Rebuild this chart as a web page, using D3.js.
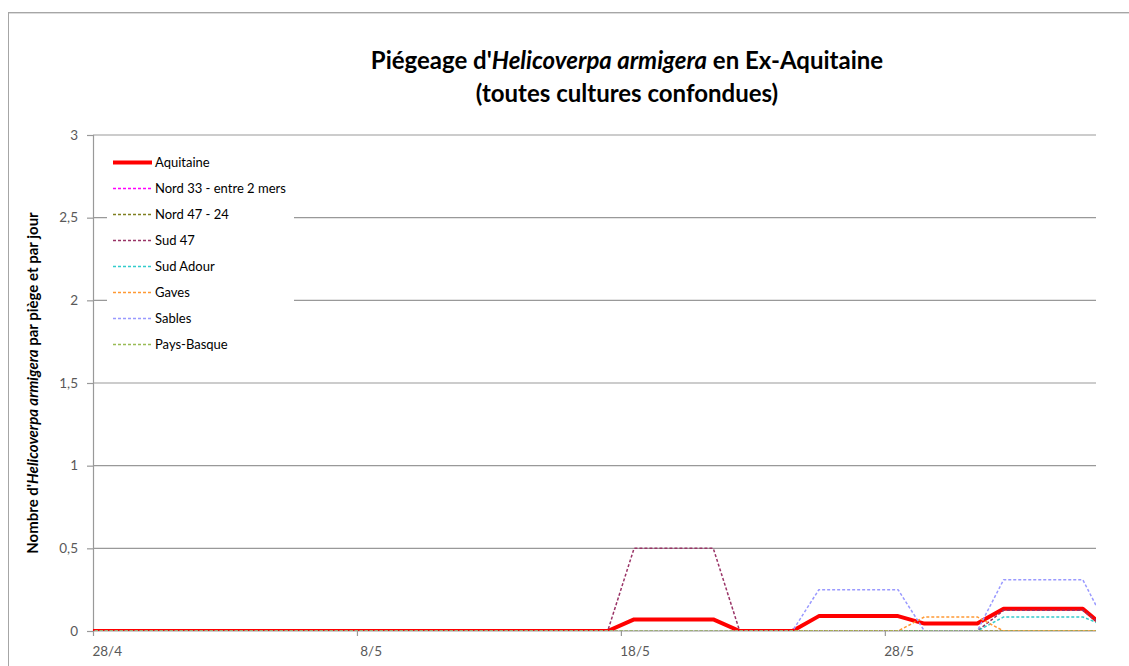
<!DOCTYPE html>
<html>
<head>
<meta charset="utf-8">
<script src="https://cdn.jsdelivr.net/npm/d3@7"></script>
<style>
  body { margin: 0; background: #fff; }
  svg { display: block; font-family: Lato, "Open Sans", sans-serif; }
</style>
</head>
<body>
<svg id="chart" width="1129" height="666"></svg>
<script>

// dates, one point per day (27/4 and 5/6 are partly outside the plot)
const dates = ['27/4','28/4','29/4','30/4',
  '1/5','2/5','3/5','4/5','5/5','6/5','7/5','8/5','9/5','10/5',
  '11/5','12/5','13/5','14/5','15/5','16/5','17/5','18/5','19/5','20/5',
  '21/5','22/5','23/5','24/5','25/5','26/5','27/5','28/5','29/5','30/5','31/5',
  '1/6','2/6','3/6','4/6','5/6'];

const xTickLabels = ['28/4','8/5','18/5','28/5'];
const yTicks = [0, 0.5, 1, 1.5, 2, 2.5, 3];

const aquitaine = [0,0,0,0,0,0,0,0,0,0,0,0,0,0,0,0,0,0,0,0,0,
  0.07,0.07,0.07,0.07, 0,0,0, 0.09,0.09,0.09,0.09, 0.045,0.045,0.045, 0.135,0.135,0.135,0.135, 0];
const nord33 = [0,0,0,0,0,0,0,0,0,0,0,0,0,0,0,0,0,0,0,0,0,
  0,0,0,0, 0,0,0, 0,0,0,0, 0,0,0, 0,0,0,0, 0];
const nord4724 = [0,0,0,0,0,0,0,0,0,0,0,0,0,0,0,0,0,0,0,0,0,
  0,0,0,0, 0,0,0, 0,0,0,0, 0,0,0, 0,0,0,0, 0];
const sud47 = [0,0,0,0,0,0,0,0,0,0,0,0,0,0,0,0,0,0,0,0,0,
  0.5,0.5,0.5,0.5, 0,0,0, 0,0,0,0, 0,0,0, 0.125,0.125,0.125,0.125, 0];
const sudAdour = [0,0,0,0,0,0,0,0,0,0,0,0,0,0,0,0,0,0,0,0,0,
  0,0,0,0, 0,0,0, 0,0,0,0, 0,0,0, 0.085,0.085,0.085,0.085, 0.02];
const gaves = [0,0,0,0,0,0,0,0,0,0,0,0,0,0,0,0,0,0,0,0,0,
  0,0,0,0, 0,0,0, 0,0,0,0, 0.085,0.085,0.085, 0,0,0,0, 0];
const sables = [0,0,0,0,0,0,0,0,0,0,0,0,0,0,0,0,0,0,0,0,0,
  0,0,0,0, 0,0,0, 0.25,0.25,0.25,0.25, 0,0,0, 0.31,0.31,0.31,0.31, 0];
const paysBasque = [0,0,0,0,0,0,0,0,0,0,0,0,0,0,0,0,0,0,0,0,0,
  0,0,0,0, 0,0,0, 0,0,0,0, 0,0,0, 0,0,0,0, 0];

const series = [
  {name: 'Aquitaine', values: aquitaine, color: '#ff0000', width: 4, dash: null},
  {name: 'Nord 33 - entre 2 mers', values: nord33, color: '#ff00ff', width: 1.5, dash: '3,2'},
  {name: 'Nord 47 - 24', values: nord4724, color: '#7f7f20', width: 1.5, dash: '3,2'},
  {name: 'Sud 47', values: sud47, color: '#993366', width: 1.5, dash: '3,2'},
  {name: 'Sud Adour', values: sudAdour, color: '#33cccc', width: 1.5, dash: '3,2'},
  {name: 'Gaves', values: gaves, color: '#ff9933', width: 1.5, dash: '3,2'},
  {name: 'Sables', values: sables, color: '#9999ff', width: 1.5, dash: '3,2'},
  {name: 'Pays-Basque', values: paysBasque, color: '#99bb55', width: 1.5, dash: '3,2'}
];

const svg = d3.select("#chart");
const plotLeft = 93, plotRight = 1096, plotTop = 135, plotBottom = 631;
const nDays = 38;

// x in days from 28/4 ; each day's point sits in the middle of its slot
const x = d3.scaleLinear().domain([0, nDays]).range([plotLeft, plotRight]);
const y = d3.scaleLinear().domain([0, 3]).range([plotBottom, plotTop]);
const dayOf = i => i - 1;

const fr = d3.formatLocale({decimal: ",", thousands: " ", grouping: [3], currency: ["", " €"]});
const fmt = fr.format("~g");

// outer chart border
svg.append("rect")
    .attr("x", 8.5).attr("y", 12.5)
    .attr("width", 1140).attr("height", 700)
    .attr("fill", "none").attr("stroke", "#a6a6a6").attr("stroke-width", 1);
svg.append("line")
    .attr("x1", 9).attr("x2", 1129).attr("y1", 13.5).attr("y2", 13.5)
    .attr("stroke", "#dcdcdc");

// title
const title = svg.append("text")
    .attr("x", 627).attr("y", 69)
    .attr("text-anchor", "middle")
    .attr("font-size", 24).attr("font-weight", "bold").attr("fill", "#000");
title.append("tspan").text("Piégeage d'");
title.append("tspan").attr("font-style", "italic").text("Helicoverpa armigera");
title.append("tspan").text(" en Ex-Aquitaine");
svg.append("text")
    .attr("x", 627).attr("y", 102)
    .attr("text-anchor", "middle")
    .attr("font-size", 24).attr("font-weight", "bold").attr("fill", "#000")
    .text("(toutes cultures confondues)");

// gridlines
svg.append("g")
    .selectAll("line")
    .data(yTicks.filter(d => d > 0))
    .join("line")
    .attr("x1", plotLeft).attr("x2", plotRight)
    .attr("y1", d => y(d)).attr("y2", d => y(d))
    .attr("stroke", "#999").attr("stroke-width", 1.2);

// y axis
const yAxis = svg.append("g")
    .attr("transform", `translate(${plotLeft},0)`)
    .call(d3.axisLeft(y).tickValues(yTicks).tickFormat(fmt).tickSize(6).tickPadding(9));
yAxis.select(".domain").attr("stroke", "#999").attr("stroke-width", 1.2);
yAxis.selectAll(".tick line").attr("stroke", "#999").attr("stroke-width", 1.2);
yAxis.selectAll("text").attr("font-size", 13.5).attr("fill", "#595959")
    .attr("font-family", "Lato, sans-serif");

// x axis : ticks at the slot boundary, labels centred on the day
const tickDays = xTickLabels.map(t => dayOf(dates.indexOf(t)));
const xAxis = svg.append("g")
    .attr("transform", `translate(0,${plotBottom})`)
    .call(d3.axisBottom(x).tickValues(tickDays).tickFormat("").tickSize(5));
xAxis.select(".domain").attr("stroke", "#999").attr("stroke-width", 1.2).attr("d", `M${plotLeft},0H${plotRight}`);
xAxis.selectAll(".tick line").attr("stroke", "#999").attr("stroke-width", 1.2);
svg.append("g")
    .selectAll("text")
    .data(xTickLabels)
    .join("text")
    .attr("x", t => x(dayOf(dates.indexOf(t)) + 0.5) + 1)
    .attr("y", 656)
    .attr("text-anchor", "middle")
    .attr("font-size", 13.5).attr("fill", "#595959")
    .text(t => t);

// y axis title
const yTitle = svg.append("text")
    .attr("transform", "translate(38,383) rotate(-90)")
    .attr("text-anchor", "middle")
    .attr("font-size", 15).attr("font-weight", "bold").attr("fill", "#000");
yTitle.append("tspan").text("Nombre d'");
yTitle.append("tspan").attr("font-style", "italic").text("Helicoverpa armigera");
yTitle.append("tspan").text(" par piège et par jour");

// lines, clipped to the plot area
svg.append("clipPath").attr("id", "plot-clip")
  .append("rect").attr("x", plotLeft).attr("y", plotTop - 5)
    .attr("width", plotRight - plotLeft).attr("height", plotBottom - plotTop + 5);

const line = d3.line()
    .x((v, i) => x(dayOf(i) + 0.5))
    .y(v => y(v));

svg.append("g")
    .attr("clip-path", "url(#plot-clip)")
    .selectAll("path")
    .data(series)
    .join("path")
    .attr("d", s => line(s.values))
    .attr("fill", "none")
    .attr("stroke", s => s.color)
    .attr("stroke-width", s => s.width)
    .attr("stroke-dasharray", s => s.dash)
    .attr("stroke-linejoin", "round");

// legend
const legend = svg.append("g");
legend.append("rect")
    .attr("x", 107).attr("y", 148).attr("width", 187).attr("height", 210)
    .attr("fill", "#fff");
const item = legend.selectAll("g")
    .data(series)
    .join("g")
    .attr("transform", (s, i) => `translate(113,${162.5 + i * 26})`);
item.append("line")
    .attr("x1", 0).attr("x2", 39)
    .attr("stroke", s => s.color)
    .attr("stroke-width", s => s.width)
    .attr("stroke-dasharray", s => s.dash);
item.append("text")
    .attr("x", 42).attr("y", 4.5)
    .attr("font-size", 13).attr("fill", "#000")
    .text(s => s.name);

</script>
</body>
</html>
